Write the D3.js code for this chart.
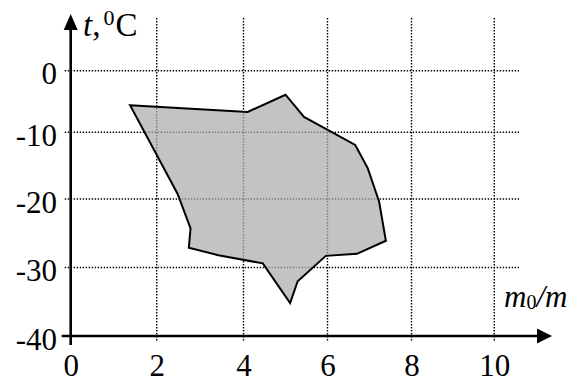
<!DOCTYPE html>
<html><head><meta charset="utf-8">
<script src="https://cdn.jsdelivr.net/npm/d3@7"></script>
<style>html,body{margin:0;padding:0;background:#fff;}svg{display:block}</style>
</head><body>
<script>
// ---- data ----
const xTicks = [0, 2, 4, 6, 8, 10];
const yTicks = [0, -10, -20, -30, -40];
const xTickLabels = ["0", "2", "4", "6", "8", "10"];
const yTickLabels = ["0", "-10", "-20", "-30", "-40"];
// polygon outline of the region (m0/m, t in °C)
const regionM = [1.38, 4.10, 5.00, 5.44, 6.66, 6.96, 7.23, 7.39, 6.70, 5.96, 5.29, 5.11, 4.46, 3.42, 2.74, 2.78, 2.48];
const regionT = [-5.6, -6.7, -3.9, -7.5, -11.9, -15.4, -20.4, -26.1, -28.0, -28.3, -32.0, -35.2, -29.4, -28.2, -27.1, -24.3, -19.2];

// ---- layout ----
const W = 583, H = 380;
const FONT = "Liberation Serif";
const svg = d3.select("body").append("svg").attr("width", W).attr("height", H)
  .attr("font-family", FONT);
svg.append("rect").attr("width", W).attr("height", H).attr("fill", "#fff");

// hand-drawn grid is slightly uneven: piecewise linear scales through the grid lines
const x = d3.scaleLinear().domain(xTicks).range([70.7, 156.7, 243.5, 327.5, 411.5, 494.3]);
const y = d3.scaleLinear().domain(yTicks).range([70.7, 132.3, 199, 267.5, 336]);

const x0 = x(0), yb = y(-40);

// grid
const grid = svg.append("g").attr("stroke", "#000").attr("stroke-width", 1.4)
  .attr("stroke-dasharray", "1.4,1.6").attr("fill", "none");
grid.selectAll("line.v").data(xTicks.filter(d => d !== 0)).join("line")
  .attr("class", "v")
  .attr("x1", d => x(d)).attr("x2", d => x(d))
  .attr("y1", 18).attr("y2", yb + 6);
grid.selectAll("line.h").data(yTicks.filter(d => d !== -40)).join("line")
  .attr("class", "h")
  .attr("x1", x0 - 6).attr("x2", 519)
  .attr("y1", d => y(d)).attr("y2", d => y(d));

// region polygon
const pts = regionM.map((m, i) => [x(m), y(regionT[i])]);
svg.append("path")
  .attr("d", d3.line().curve(d3.curveLinearClosed)(pts))
  .attr("fill", "#adadad").attr("fill-opacity", 0.73)
  .attr("stroke", "#000").attr("stroke-width", 2).attr("stroke-linejoin", "miter");

// axes
const ax = svg.append("g").attr("stroke", "#000").attr("stroke-width", 2.6);
ax.append("line").attr("x1", x0 - 9).attr("x2", 538).attr("y1", yb).attr("y2", yb);
ax.append("line").attr("x1", x0).attr("x2", x0).attr("y1", yb + 9).attr("y2", 28);
svg.append("path").attr("d", `M552,${yb} L537,${yb - 7.5} L537,${yb + 7.5} Z`).attr("fill", "#000");
svg.append("path").attr("d", `M${x0},14 L${x0 - 7},30 L${x0 + 7},30 Z`).attr("fill", "#000");

// tick labels via d3 axes
const xAxis = d3.axisBottom(x).tickValues(xTicks).tickSize(0).tickFormat((d, i) => xTickLabels[i]);
const gx = svg.append("g").attr("transform", `translate(0,${yb})`).call(xAxis)
  .attr("font-family", FONT).attr("font-size", 31);
gx.select(".domain").remove();
gx.selectAll("text").attr("font-family", FONT).attr("font-size", 31)
  .attr("fill", "#000").attr("y", 0).attr("dy", 40);

const yAxis = d3.axisLeft(y).tickValues(yTicks).tickSize(0).tickFormat((d, i) => yTickLabels[i]);
const gy = svg.append("g").attr("transform", `translate(57,0)`).call(yAxis)
  .attr("font-family", FONT).attr("font-size", 31);
gy.select(".domain").remove();
gy.selectAll("text").attr("font-family", FONT).attr("font-size", 31)
  .attr("fill", "#000").attr("x", 0).attr("dy", 13);

// axis titles
const tT = svg.append("text").attr("x", 83).attr("y", 36)
  .attr("font-family", FONT).attr("font-size", 33).attr("fill", "#000");
tT.append("tspan").attr("font-style", "italic").text("t");
tT.append("tspan").text(",");
tT.append("tspan").attr("font-size", 22).attr("dx", 3).attr("dy", -11).text("0");
tT.append("tspan").attr("dx", 1).attr("dy", 11).text("C");

const mT = svg.append("text").attr("x", 504).attr("y", 307)
  .attr("font-family", FONT).attr("font-size", 31).attr("fill", "#000");
mT.append("tspan").attr("font-style", "italic").text("m");
mT.append("tspan").attr("font-size", 20).attr("dy", 2).text("0");
mT.append("tspan").attr("font-style", "italic").attr("dy", -2).text("/m");
</script>
</body></html>
